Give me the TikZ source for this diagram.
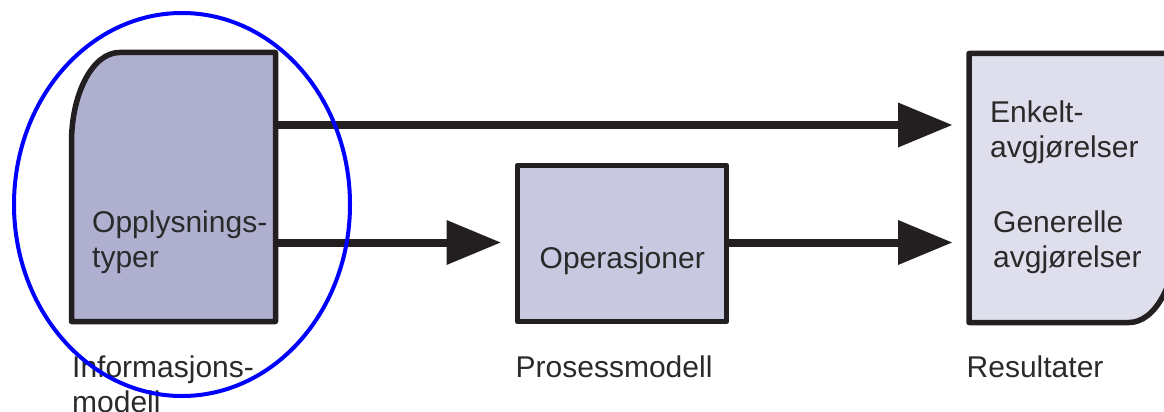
\documentclass[tikz,border=0pt]{standalone}
\usepackage{fontspec}
\setmainfont{Liberation Sans}
\usetikzlibrary{arrows.meta}

\definecolor{inkline}{HTML}{231F20}
\definecolor{inktext}{HTML}{2A2A2A}
\definecolor{infofill}{HTML}{AFB0D0}
\definecolor{opsfill}{HTML}{C8C8E0}
\definecolor{resfill}{HTML}{DEDEEC}

\tikzset{
  frame/.style={draw=none, inner sep=0pt, outer sep=0pt},
  boxline/.style={draw=inkline, line width=5.5pt, line join=round},
  conn/.style={draw=inkline, line width=8pt,
    -{Triangle[length=54pt, width=45pt, line width=0pt]}, shorten >=17pt},
  lbl/.style={font=\fontsize{30}{35}\selectfont, text=inktext, inner sep=0pt,
    anchor=base west, align=left},
  focus/.style={draw=blue, line width=4pt}
}

\begin{document}
\begin{tikzpicture}[x=1pt, y=1pt]
  \useasboundingbox (0,0) rectangle (1164,-412);
  \clip (0,0) rectangle (1164,-412);

  % frames of the three blocks (border centre lines)
  \node[frame, minimum width=204pt, minimum height=269pt] (info) at (173.5,-187) {};
  \node[frame, minimum width=209pt, minimum height=156pt] (ops) at (622,-243.5) {};
  \node[frame, minimum width=208pt, minimum height=269pt] (res) at (1073,-188) {};

  % rows of the connectors
  \coordinate (upper) at (0,-125);
  \coordinate (lower) at (0,-242.5);

  % connectors
  \draw[conn] (info.east |- upper) -- (res.west |- upper);
  \draw[conn] (info.east |- lower) -- (ops.west |- lower);
  \draw[conn] (ops.east |- lower) -- (res.west |- lower);

  % information model block, rounded top-left corner
  \draw[boxline, fill=infofill]
    (info.south west) -- ([yshift=-90pt]info.north west)
    arc[start angle=180, end angle=90, x radius=48pt, y radius=90pt]
    -- (info.north east) -- (info.south east) -- cycle;

  % process model block
  \draw[boxline, fill=opsfill] (ops.south west) rectangle (ops.north east);

  % results block, rounded bottom-right corner
  \draw[boxline, fill=resfill]
    (res.north west) -- (res.north east) -- ([yshift=90pt]res.south east)
    arc[start angle=0, end angle=-90, x radius=48pt, y radius=90pt]
    -- (res.south west) -- cycle;

  % texts inside the blocks (base anchor sits on the last line)
  \node[lbl] (opl) at (92,-267) {Opplysnings-\\typer};
  \node[lbl] (opr) at (539.5,-268) {Operasjoner};
  \node[lbl] (enk) at (990,-157) {Enkelt-\\avgjørelser};
  \node[lbl] (gen) at (993,-267) {Generelle\\avgjørelser};

  % captions under the blocks
  \node[lbl] (capinfo) at (72,-412) {Informasjons-\\modell};
  \node[lbl] (capops) at (515.5,-377.5) {Prosessmodell};
  \node[lbl] (capres) at (966.5,-377) {Resultater};

  % highlight round the information model
  \draw[focus] (182,-204.5) ellipse [x radius=168pt, y radius=191.5pt];
\end{tikzpicture}
\end{document}
